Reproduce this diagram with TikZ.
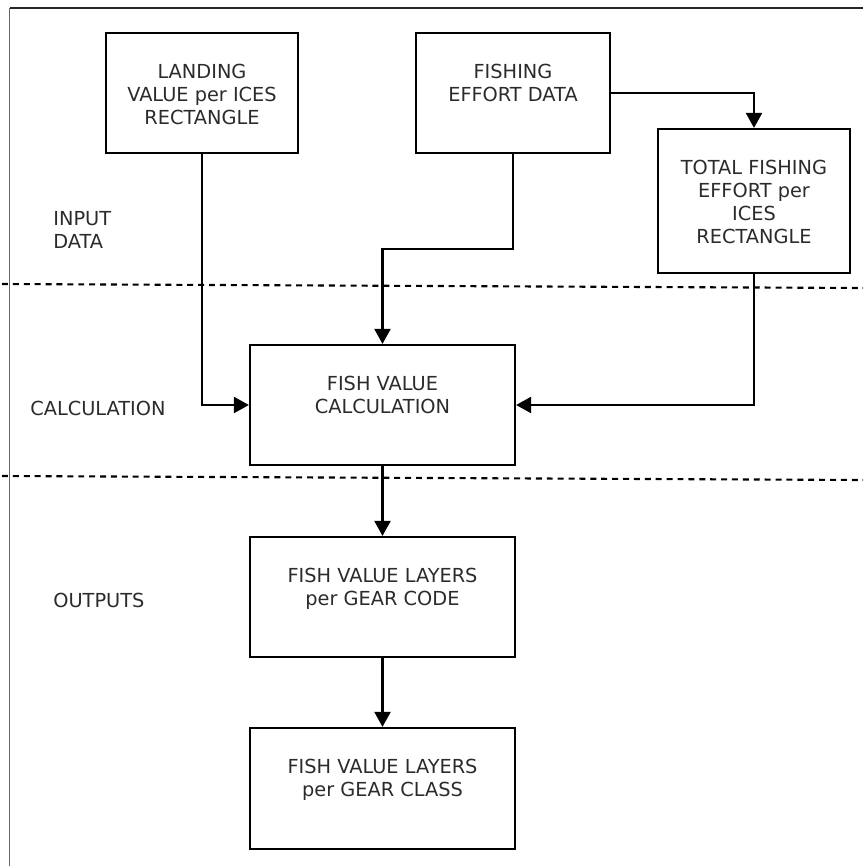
\documentclass[tikz,border=0pt]{standalone}
\usepackage{fontspec}
\setmainfont{DejaVu Sans}
\usetikzlibrary{arrows.meta,positioning}
\definecolor{txtgray}{HTML}{2B2B2B}
\tikzset{
  box/.style={draw,line width=1.25pt,minimum width=3.84cm,minimum height=2.4cm,inner sep=0pt},
  boxtext/.style={anchor=north,align=center,inner sep=0pt,text=txtgray,font=\fontsize{11}{13.1}\selectfont},
  lbl/.style={anchor=west,align=left,inner sep=0pt,text=txtgray,font=\fontsize{11}{13.1}\selectfont},
  arr/.style={line width=1.25pt,-{Triangle[length=0.3cm,width=0.32cm]}},
  divider/.style={line width=1.2pt,dash pattern=on 3.4pt off 2.8pt}
}

\begin{document}
\begin{tikzpicture}
\useasboundingbox (0,0) rectangle (17.26,-17.32);

% frame
\draw[line width=0.6pt,black!85] (0.19,-0.16) -- (17.26,-0.16);
\draw[line width=0.6pt,black!60] (0.19,-0.16) -- (0.19,-17.32);

% stages
\draw[divider] (0.04,-5.68) -- (17.26,-5.76);
\draw[divider] (0.04,-9.52) -- (17.26,-9.60);
\node[lbl] (inlbl) at (1.06,-4.59) {INPUT\\DATA};
\node[lbl] (calclbl) at (0.6,-8.16) {CALCULATION};
\node[lbl] (outlbl) at (1.06,-12.0) {OUTPUTS};

% boxes
\node[box] (land) at (4.04,-1.86) {};
\node[box,minimum width=3.88cm] (effort) at (10.26,-1.86) {};
\node[box,minimum height=2.88cm] (total) at (15.08,-4.02) {};
\node[box,minimum width=5.3cm] (calc) at (7.65,-8.1) {};
\node[box,minimum width=5.3cm] (code) at (7.65,-11.94) {};
\node[box,minimum width=5.3cm,minimum height=2.42cm] (class) at (7.65,-15.77) {};

\node[boxtext,below=0.64cm of land.north] (landtxt) {LANDING\\VALUE per ICES\\RECTANGLE};
\node[boxtext,below=0.64cm of effort.north] (efforttxt) {FISHING\\EFFORT DATA};
\node[boxtext,below=0.64cm of total.north] (totaltxt) {TOTAL FISHING\\EFFORT per\\ICES\\RECTANGLE};
\node[boxtext,below=0.64cm of calc.north] (calctxt) {FISH VALUE\\CALCULATION};
\node[boxtext,below=0.64cm of code.north] (codetxt) {FISH VALUE LAYERS\\per GEAR CODE};
\node[boxtext,below=0.64cm of class.north] (classtxt) {FISH VALUE LAYERS\\per GEAR CLASS};

% connectors
\draw[arr] (effort.east) -| (total.north);
\draw[arr] (effort.south) -- ++(0,-1.9) -| (calc.north);
\draw[arr] (land.south) |- (calc.west);
\draw[arr] (total.south) |- (calc.east);
\draw[arr] (calc.south) -- (code.north);
\draw[arr] (code.south) -- (class.north);

\end{tikzpicture}
\end{document}
